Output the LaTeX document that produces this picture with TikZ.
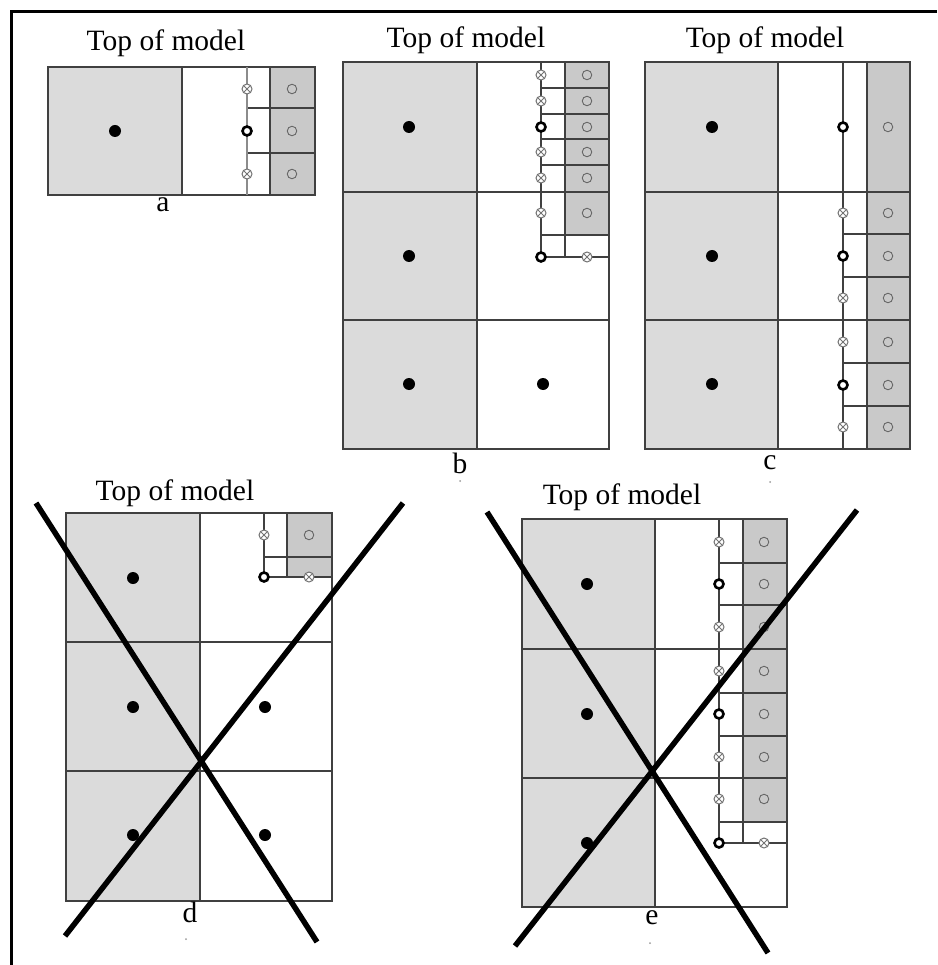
\documentclass[tikz,border=0pt]{standalone}
\usepackage{fontspec}
\setmainfont{Liberation Serif}

\begin{document}
\begin{tikzpicture}[x=1pt, y=-1pt,
        cell/.style = {draw=black!75, line width=1.4pt},
        light/.style = {fill=black!14},
        dark/.style = {fill=black!21},
        caption/.style = {font=\fontsize{29.5}{32}\selectfont, inner sep=0pt},
        cross/.style = {line width=5.5pt},
        wellpt/.style = {shape=circle, fill=black, inner sep=0pt, minimum size=12pt},
        ringpt/.style = {shape=circle, draw=black, fill=white, line width=2.6pt, inner sep=0pt, minimum size=9pt},
        openpt/.style = {shape=circle, draw=black!60, line width=0.9pt, inner sep=0pt, minimum size=9.5pt},
        ghostpt/.style = {shape=circle, draw=black!55, fill=white, line width=1pt, inner sep=0pt, minimum size=10pt,
            path picture={\draw[black!55, line width=0.8pt]
                (path picture bounding box.south west) -- (path picture bounding box.north east)
                (path picture bounding box.north west) -- (path picture bounding box.south east);}},
        speck/.style = {shape=circle, fill=black!40, inner sep=0pt, minimum size=2pt}]
    \useasboundingbox (0,0) rectangle (937,965);
    \draw[line width=3pt] (937,12) -- (11,12) -- (11,965);

    \fill[light] (48,67) rectangle (182,195);
    \fill[dark] (270,67) rectangle (315,195);
    \draw[cell] (48,67) rectangle (315,195);
    \draw[cell] (182,67) -- (182,195) (270,67) -- (270,195);
    \draw[cell] (247,108) -- (315,108) (247,153) -- (315,153);
    \draw[cell, draw=black!45] (247,67) -- (247,195);
    \node[caption] (topa) at (166,43) {Top of model};
    \node[caption] (laba) at (163,205) {a};
    \node[wellpt] (aw) at (115,131) {};
    \node[ringpt] (ar) at (247,131) {};
    \foreach \y in {89,174} \node[ghostpt] (ag\y) at (247,\y) {};
    \foreach \y in {89,131,174} \node[openpt] (ao\y) at (292,\y) {};

    \fill[light] (343,62) rectangle (477,449);
    \fill[dark] (565,62) rectangle (609,235);
    \draw[cell] (343,62) rectangle (609,449);
    \draw[cell] (477,62) -- (477,449);
    \draw[cell] (343,192) -- (609,192) (343,320) -- (609,320);
    \draw[cell] (541,62) -- (541,257) -- (609,257);
    \draw[cell] (565,62) -- (565,257);
    \foreach \y in {88,114,139,165,235} \draw[cell] (541,\y) -- (609,\y);
    \node[caption] (topb) at (466,40) {Top of model};
    \node[caption] (labb) at (460,463) {b};
    \node[speck] (sb) at (460,481) {};
    \foreach \y in {127,256,384} \node[wellpt] (bw\y) at (409,\y) {};
    \node[wellpt] (bw) at (543,384) {};
    \foreach \y in {127,257} \node[ringpt] (br\y) at (541,\y) {};
    \foreach \y in {75,101,152,178,213} \node[ghostpt] (bg\y) at (541,\y) {};
    \foreach \y in {75,101,127,152,178,213} \node[openpt] (bo\y) at (587,\y) {};
    \node[ghostpt] (bg) at (587,257) {};

    \fill[light] (645,62) rectangle (778,449);
    \fill[dark] (867,62) rectangle (910,449);
    \draw[cell] (645,62) rectangle (910,449);
    \draw[cell] (778,62) -- (778,449);
    \draw[cell] (645,192) -- (910,192) (645,320) -- (910,320);
    \draw[cell] (843,62) -- (843,449) (867,62) -- (867,449);
    \foreach \y in {234,277,363,406} \draw[cell] (843,\y) -- (910,\y);
    \node[caption] (topc) at (765,40) {Top of model};
    \node[caption] (labc) at (770,463) {c};
    \node[speck] (sc) at (770,482) {};
    \foreach \y in {127,256,384} \node[wellpt] (cw\y) at (712,\y) {};
    \foreach \y in {127,256,385} \node[ringpt] (cr\y) at (843,\y) {};
    \foreach \y in {213,298,342,427} \node[ghostpt] (cg\y) at (843,\y) {};
    \foreach \y in {127,213,256,298,342,385,427} \node[openpt] (co\y) at (888,\y) {};

    \fill[light] (66,513) rectangle (200,901);
    \fill[dark] (287,513) rectangle (332,577);
    \draw[cell] (66,513) rectangle (332,901);
    \draw[cell] (200,513) -- (200,901);
    \draw[cell] (66,642) -- (332,642) (66,771) -- (332,771);
    \draw[cell] (264,513) -- (264,577) -- (332,577);
    \draw[cell] (287,513) -- (287,577) (264,557) -- (332,557);
    \node[caption] (topd) at (175,493) {Top of model};
    \node[caption] (labd) at (190,912) {d};
    \node[speck] (sd) at (186,939) {};
    \foreach \y in {578,707,835} \node[wellpt] (dw\y) at (133,\y) {};
    \foreach \y in {707,835} \node[wellpt] (dv\y) at (265,\y) {};
    \node[ghostpt] (dg) at (264,535) {};
    \node[openpt] (do) at (309,535) {};
    \node[ringpt] (dr) at (264,577) {};
    \node[ghostpt] (dh) at (309,577) {};
    \draw[cross] (36,503) -- (317,942) (65,936) -- (403,503);

    \fill[light] (522,519) rectangle (655,907);
    \fill[dark] (743,519) rectangle (787,822);
    \draw[cell] (522,519) rectangle (787,907);
    \draw[cell] (655,519) -- (655,907);
    \draw[cell] (522,649) -- (787,649) (522,778) -- (787,778);
    \draw[cell] (719,519) -- (719,843) -- (787,843);
    \draw[cell] (743,519) -- (743,843);
    \foreach \y in {563,605,693,736,822} \draw[cell] (719,\y) -- (787,\y);
    \node[caption] (tope) at (622,497) {Top of model};
    \node[caption] (labe) at (652,918) {e};
    \node[speck] (se) at (650,943) {};
    \foreach \y in {584,714,843} \node[wellpt] (ew\y) at (587,\y) {};
    \foreach \y in {584,714,843} \node[ringpt] (er\y) at (719,\y) {};
    \foreach \y in {542,627,671,757,799} \node[ghostpt] (eg\y) at (719,\y) {};
    \foreach \y in {542,584,627,671,714,757,799} \node[openpt] (eo\y) at (764,\y) {};
    \node[ghostpt] (eg) at (764,843) {};
    \draw[cross] (487,512) -- (768,953) (515,946) -- (857,510);
\end{tikzpicture}
\end{document}
